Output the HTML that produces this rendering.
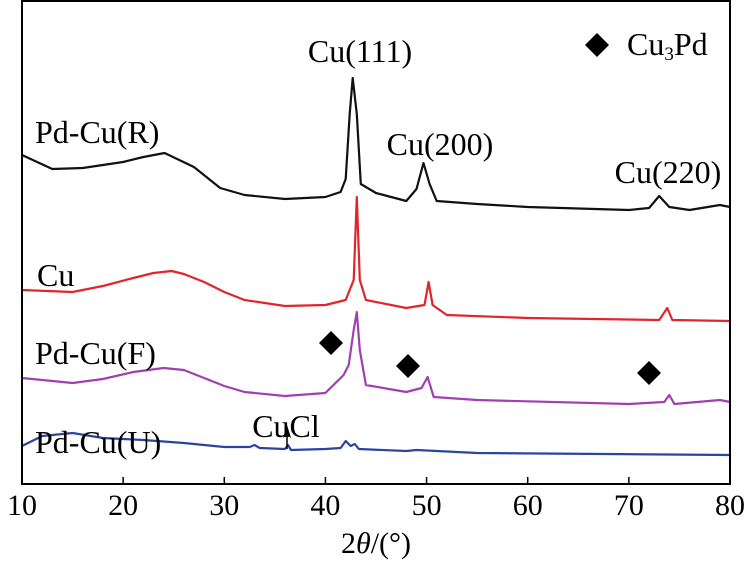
<!DOCTYPE html>
<html><head><meta charset="utf-8"><style>
body{margin:0;background:#fff}
svg{display:block;font-family:"Liberation Serif",serif}
</style></head><body>
<svg id="chart" width="754" height="562" viewBox="0 0 754 562">
<g id="series"></g>
<rect x="22" y="1" width="708" height="483" fill="none" stroke="#000" stroke-width="2"/>
<g id="ticks"></g>
<text x="376" y="553" font-size="30" text-anchor="middle">2<tspan font-style="italic">θ</tspan>/(°)</text>
<g font-size="32">
<text x="35" y="143">Pd-Cu(R)</text>
<text x="37" y="286">Cu</text>
<text x="35" y="364">Pd-Cu(F)</text>
<text x="35" y="453">Pd-Cu(U)</text>
<text x="360" y="62" text-anchor="middle">Cu(111)</text>
<text x="440" y="155" text-anchor="middle">Cu(200)</text>
<text x="668" y="183" text-anchor="middle">Cu(220)</text>
<text x="286" y="437" text-anchor="middle">CuCl</text>
<text x="627" y="55">Cu<tspan font-size="19" dy="5">3</tspan><tspan dy="-5">Pd</tspan></text>
</g>
<g fill="#000">
<path d="M597 33 L609 45 L597 57 L585 45Z"/>
<path d="M331 331 L343 343 L331 355 L319 343Z"/>
<path d="M408 354 L420 366 L408 378 L396 366Z"/>
<path d="M649 361 L661 373 L649 385 L637 373Z"/>
<line x1="287" y1="449" x2="287" y2="432" stroke="#000" stroke-width="1.5"/>
<path d="M287 425 L291 438 L287 435 L283 438Z"/>
</g>
</svg>
<script>
const xTicks=[10,20,30,40,50,60,70,80];
const xR=[10,13,16,20,22,24.1,27,29.6,32,36,40,41.5,42,42.4,42.7,43.1,43.5,45,48,49,49.7,50.3,51,55,60,70,72,73,74,76,79,80];
const yR=[329,315,316,322,327,331,317,296,289,285,287,292,305,370,406,370,300,291,283,295,321,300,283,280,277,274,276,288,277,274,279,277];
const xC=[10,15,18,21,23,24.8,26,28,30,32,36,40,42,42.8,43.1,43.4,44,48,49.8,50.2,50.6,52,60,73,73.8,74.3,80];
const yC=[194,192,198,206,211,213,210,202,192,184,178,179,184,204,287,204,184,176,179,202,179,169,166,164,176,164,163];
const xF=[10,15,18,21,24,26,28,30,32,36,40,41.8,42.3,42.8,43.1,43.4,44,48,49.5,50.1,50.7,55,70,73.5,74,74.5,79,80];
const yF=[106,101,105,112,116,114,106,98,92,88,91,109,119,154,172,134,99,92,96,107,87,84,80,82,89,80,84,82];
const xU=[10,12,15,18,22,26,30,32.5,33,33.5,36,36.3,36.6,40,41.5,42,42.5,42.9,43.3,48,49,55,80];
const yU=[38,48,51,46,44,41,37,37,39,36,35,39,34,35,36,43,38,40,35,33,34,31,29];
const sx=v=>22+(v-10)*708/70;
const sy=v=>484-v;
const NS='http://www.w3.org/2000/svg';
const g=document.getElementById('series');
const series=[["pd-cu-r-line",xR,yR,"#111"],["cu-line",xC,yC,"#e0262b"],["pd-cu-f-line",xF,yF,"#a040b0"],["pd-cu-u-line",xU,yU,"#2a45a0"]];
series.forEach(s=>{
 const p=document.createElementNS(NS,'path');
 
 
 p.setAttribute('d',s[1].map((x,i)=>(i?'L':'M')+sx(x).toFixed(1)+' '+sy(s[2][i]).toFixed(1)).join(' '));
 p.setAttribute('fill','none');p.setAttribute('stroke',s[3]);p.setAttribute('stroke-width','2.2');p.setAttribute('stroke-linejoin','round');
 g.appendChild(p);
});
const t=document.getElementById('ticks');
xTicks.forEach(v=>{
 const l=document.createElementNS(NS,'line');
 
 
 l.setAttribute('x1',sx(v));l.setAttribute('x2',sx(v));l.setAttribute('y1',484);l.setAttribute('y2',477);l.setAttribute('stroke','#000');l.setAttribute('stroke-width','1.5');
 t.appendChild(l);
 const tx=document.createElementNS(NS,'text');
 
 
 tx.setAttribute('x',sx(v));tx.setAttribute('y',515);tx.setAttribute('font-size','30');tx.setAttribute('text-anchor','middle');
 tx.textContent=v;t.appendChild(tx);
});
</script>
</body></html>
